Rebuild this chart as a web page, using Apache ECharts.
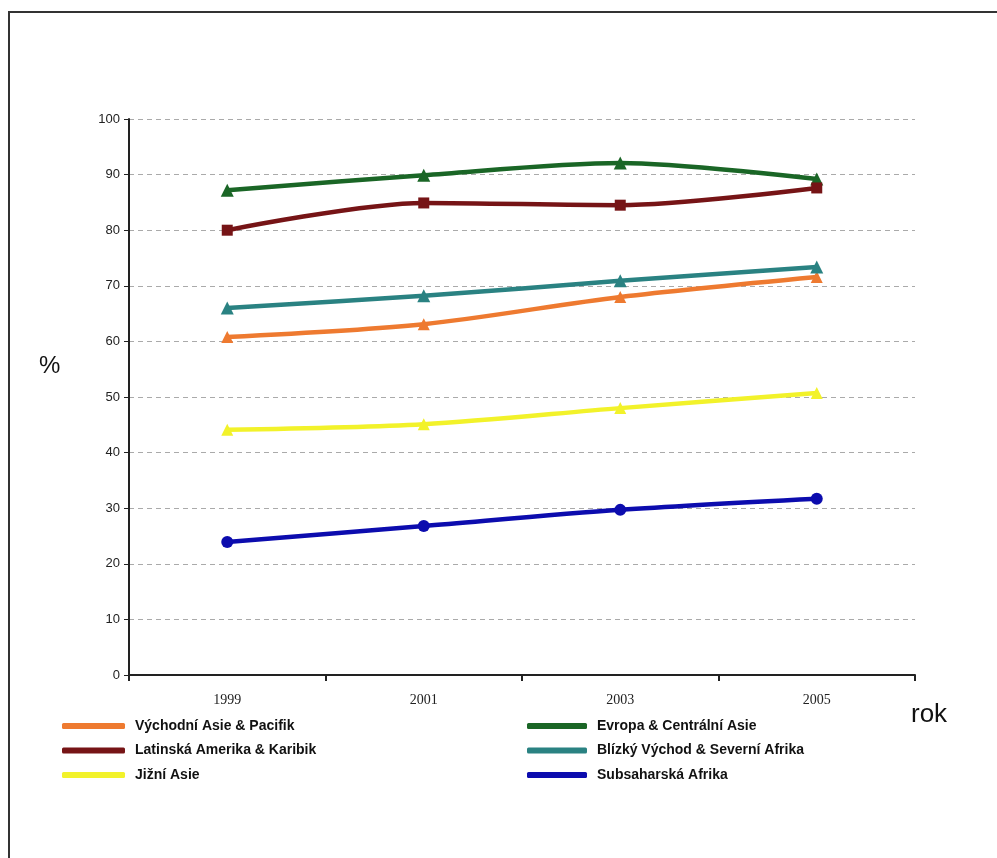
<!DOCTYPE html>
<html><head><meta charset="utf-8">
<script src="https://cdn.jsdelivr.net/npm/echarts@6/dist/echarts.min.js"></script>
<style>html,body{margin:0;padding:0;background:#fff}#c{width:997px;height:858px}</style>
</head><body><div id="c"></div>
<script>
const years = ['1999','2001','2003','2005'];
const yTicks = [0,10,20,30,40,50,60,70,80,90,100];
const vychodniAsie = [60.8, 63.1, 68.0, 71.6];
const evropa = [87.2, 89.9, 92.1, 89.2];
const latinska = [80.0, 84.9, 84.5, 87.6];
const blizky = [66.0, 68.2, 70.9, 73.4];
const jizni = [44.1, 45.1, 48.0, 50.7];
const subsaharska = [23.9, 26.8, 29.7, 31.7];
const names = ['Východní Asie & Pacifik','Evropa & Centrální Asie','Latinská Amerika & Karibik','Blízký Východ & Severní Afrika','Jižní Asie','Subsaharská Afrika'];

const chart = echarts.init(document.getElementById('c'));
function ser(name, data, color, symbol, size) {
  return {name, type:'line', data, smooth:0.3, symbol, symbolSize:size, showSymbol:true,
    lineStyle:{color, width:4.5}, itemStyle:{color}, emphasis:{disabled:true}};
}
const legendText = {fontFamily:'Liberation Sans', fontWeight:'bold', fontSize:14, color:'#111', padding:[0,0,0,5]};
chart.setOption({
  animation:false,
  backgroundColor:'#fff',
  grid:{left:129, right:82, top:119, bottom:183},
  xAxis:{type:'category', data:years, boundaryGap:true,
    axisLine:{lineStyle:{color:'#222', width:2}},
    axisTick:{show:true, length:6, lineStyle:{color:'#222', width:2}},
    axisLabel:{fontFamily:'Liberation Serif', fontSize:14, color:'#222', margin:18},
    splitLine:{show:false}},
  yAxis:{type:'value', min:yTicks[0], max:yTicks[yTicks.length-1], interval:10,
    axisLine:{show:true, lineStyle:{color:'#222', width:2}},
    axisTick:{show:true, length:5, lineStyle:{color:'#222'}},
    axisLabel:{fontFamily:'Liberation Sans', fontSize:13, color:'#222', margin:9},
    splitLine:{show:true, lineStyle:{color:'#aaa', type:[5,4], width:1}}},
  legend:[
    {data:[names[0],names[2],names[4]], orient:'vertical', left:57, top:714, itemWidth:63, itemHeight:6, itemGap:10.5,
      icon:'roundRect', textStyle:legendText},
    {data:[names[1],names[3],names[5]], orient:'vertical', left:522, top:714, itemWidth:60, itemHeight:6, itemGap:10.5,
      icon:'roundRect', textStyle:legendText}
  ],
  graphic:[
    {type:'rect', shape:{x:9, y:12, width:1000, height:900}, style:{fill:'none', stroke:'#333', lineWidth:2}, silent:true},
    {type:'text', left:39, top:354, style:{text:'%', font:'24px "Liberation Sans"', fill:'#111'}},
    {type:'text', left:911, top:702, style:{text:'rok', font:'26px "Liberation Sans"', fill:'#111'}}
  ],
  series:[
    ser(names[0], vychodniAsie, '#ee7a30', 'triangle', 12),
    ser(names[1], evropa, '#1a6626', 'triangle', 13),
    ser(names[2], latinska, '#761416', 'rect', 11),
    ser(names[3], blizky, '#2a8282', 'triangle', 13),
    ser(names[4], jizni, '#f2f22a', 'triangle', 12),
    ser(names[5], subsaharska, '#0c0cae', 'circle', 12)
  ]
});
</script></body></html>
